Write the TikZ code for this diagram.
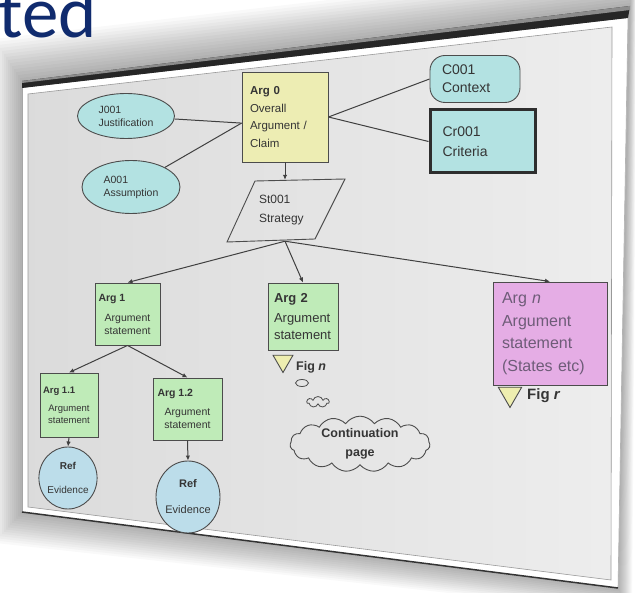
\documentclass[tikz,border=0pt]{standalone}
\usepackage{fontspec}
\setmainfont{Liberation Sans}
\newfontfamily\titlefont{Carlito}
\usetikzlibrary{shapes.geometric,shapes.symbols,arrows.meta}
\definecolor{navy}{HTML}{102B6E}
\definecolor{yel}{HTML}{EDEDB3}
\definecolor{cyn}{HTML}{B3E2E2}
\definecolor{grn}{HTML}{BFEBB8}
\definecolor{pnk}{HTML}{E5ADE5}
\definecolor{refb}{HTML}{BCDDEA}
\definecolor{tri}{HTML}{EEEEB0}
\definecolor{ink}{HTML}{353535}
\definecolor{pinkink}{HTML}{6E5C78}
\begin{document}
\begin{tikzpicture}[x=1pt,y=-1pt,
  base/.style={draw=black!70, line width=0.9pt, text=ink, inner sep=1pt},
  gbox/.style={base, rectangle, fill=grn, align=center},
  el/.style={base, ellipse, fill=cyn, inner sep=0pt, align=left},
  link/.style={draw=black!75, line width=1pt},
  arr/.style={link, -{Latex[length=5pt,width=4.5pt]}},
  trimark/.style={base, regular polygon, regular polygon sides=3, shape border rotate=180, fill=tri, inner sep=0pt},
  figlabel/.style={anchor=west, text=ink, inner sep=0pt}]
\useasboundingbox (0,0) rectangle (635,593);
\fill[white] (0,0) rectangle (635,593);
% soft shadow round the slanted sheet
\foreach \i in {1,...,14} {
  \fill[black, opacity=0.024] (22-2*\i, 81-3*\i) -- (630+0.5*\i, 6-3*\i) -- (618+1*\i, 588+1.8*\i) -- (22-2*\i, 512+2.2*\i) -- cycle;
}
% sheet
\fill[white] (22,88) -- (628,18) -- (618,588) -- (22,512) -- cycle;
\fill[black!85] (22,81) -- (630,6) -- (628,18) -- (22,88) -- cycle;
\fill[black!45] (22,81) -- (630,6) -- (630,10) -- (22,83) -- cycle;
\draw[black!35, line width=0.6pt] (22,88) -- (22,512);
\draw[black!30, line width=0.6pt] (628,18) -- (618,588);
\draw[black!80, line width=1.5pt] (22,512) -- (618,588);
\shade[left color=black!14, right color=black!7, draw=black!40, line width=0.6pt] (28,94) -- (612,27) -- (611,580) -- (28,507) -- cycle;
% title fragment
\node[anchor=base east, inner sep=0pt, text=navy, font=\titlefont\fontsize{73}{80}\selectfont] (title) at (97,38) {ted};
% nodes
\node[base, fill=yel, minimum width=86pt, minimum height=90pt, text width=70pt, align=left, font=\fontsize{11.5}{17.5}\selectfont] (arg0) at (285,117) {\textbf{Arg 0}\\Overall\\Argument /\\Claim};
\node[el, minimum width=97pt, minimum height=45pt, font=\fontsize{10.5}{13}\selectfont] (j001) at (126,116) {J001\\Justification};
\node[el, minimum width=98pt, minimum height=53pt, font=\fontsize{10.5}{13}\selectfont] (a001) at (131,187) {A001\\Assumption};
\node[base, fill=cyn, rounded corners=15pt, minimum width=90pt, minimum height=47pt, text width=66pt, align=left, font=\fontsize{14}{18}\selectfont] (c001) at (475,79) {C001\\Context};
\node[base, draw=black!82, line width=3pt, fill=cyn, minimum width=105pt, minimum height=63pt, text width=80pt, align=left, font=\fontsize{14}{20}\selectfont] (cr001) at (482.5,141.5) {Cr001\\Criteria};
\node[minimum width=118pt, minimum height=61pt, text width=52pt, align=left, inner sep=0pt, text=ink, font=\fontsize{12}{19}\selectfont] (st) at (285,210.5) {St001\\Strategy};
\draw[base] (255,181) -- (345,179) -- (315,239) -- (227,242) -- cycle;
\node[gbox, minimum width=65pt, minimum height=62pt, font=\fontsize{10.5}{13}\selectfont] (arg1) at (127.5,314) {\makebox[58pt][l]{\textbf{Arg 1}}\\[7pt]Argument\\statement};
\node[gbox, minimum width=70pt, minimum height=67pt, text width=58pt, align=left, font=\fontsize{13}{17}\selectfont] (arg2) at (303,316.5) {\textbf{Arg 2}\\[3pt]Argument\\statement};
\node[base, fill=pnk, text=pinkink, minimum width=114pt, minimum height=103pt, text width=96pt, align=left, font=\fontsize{16}{22.5}\selectfont] (argn) at (550,333.5) {Arg \textit{n}\\Argument\\statement\\(States etc)};
\node[gbox, minimum width=58pt, minimum height=64pt, font=\fontsize{9.5}{12}\selectfont] (arg11) at (69,405) {\makebox[52pt][l]{\textbf{Arg 1.1}}\\[6pt]Argument\\statement};
\node[gbox, minimum width=69pt, minimum height=62pt, font=\fontsize{10.5}{13}\selectfont] (arg12) at (187.5,409) {\makebox[60pt][l]{\textbf{Arg 1.2}}\\[6pt]Argument\\statement};
\node[base, ellipse, fill=refb, minimum width=56pt, minimum height=62pt, inner sep=0pt, align=center, font=\fontsize{10}{12}\selectfont] (ref1) at (68,478) {\textbf{Ref}\\[12pt]Evidence};
\node[base, ellipse, fill=refb, minimum width=64pt, minimum height=72pt, inner sep=0pt, align=center, font=\fontsize{11}{13}\selectfont] (ref2) at (188,497) {\textbf{Ref}\\[13pt]Evidence};
\node[trimark, minimum size=23pt] (fign) at (283,361) {};
\node[figlabel, font=\bfseries\fontsize{12.5}{14}\selectfont] (fignl) at (296,367) {Fig \textit{n}};
\node[trimark, minimum size=27pt] (figr) at (510,394) {};
\node[figlabel, font=\bfseries\fontsize{15}{17}\selectfont] (figrl) at (527,396) {Fig \textit{r}};
\node[base, ellipse, minimum width=13pt, minimum height=7pt, inner sep=0pt, line width=0.8pt] (b1) at (302,383) {};
\node[base, cloud, cloud puffs=7, minimum width=22pt, minimum height=11pt, inner sep=0pt, line width=0.8pt] (b2) at (318,402) {};
\node[base, cloud, cloud puffs=15, cloud puff arc=110, aspect=2.8, minimum width=140pt, minimum height=50pt, inner sep=0pt, align=center, font=\bfseries\fontsize{12.5}{19}\selectfont] (cont) at (360,444) {Continuation\\page};
% connectors
\draw[link] (j001) -- (arg0.188);
\draw[link] (a001) -- (arg0.188);
\draw[link] (arg0.east) -- (c001.west);
\draw[link] (arg0.east) -- (cr001.west);
\draw[arr] (arg0.south) -- (st.north);
\draw[arr] (st.south) -- (arg1.north);
\draw[arr] (st.south) -- (arg2.north);
\draw[arr] (st.south) -- (argn.north);
\draw[arr] (arg1.south) -- (arg11.north);
\draw[arr] (arg1.south) -- (arg12.north);
\draw[arr] (arg11.south) -- (ref1.north);
\draw[arr] (arg12.south) -- (ref2.north);
\end{tikzpicture}
\end{document}
